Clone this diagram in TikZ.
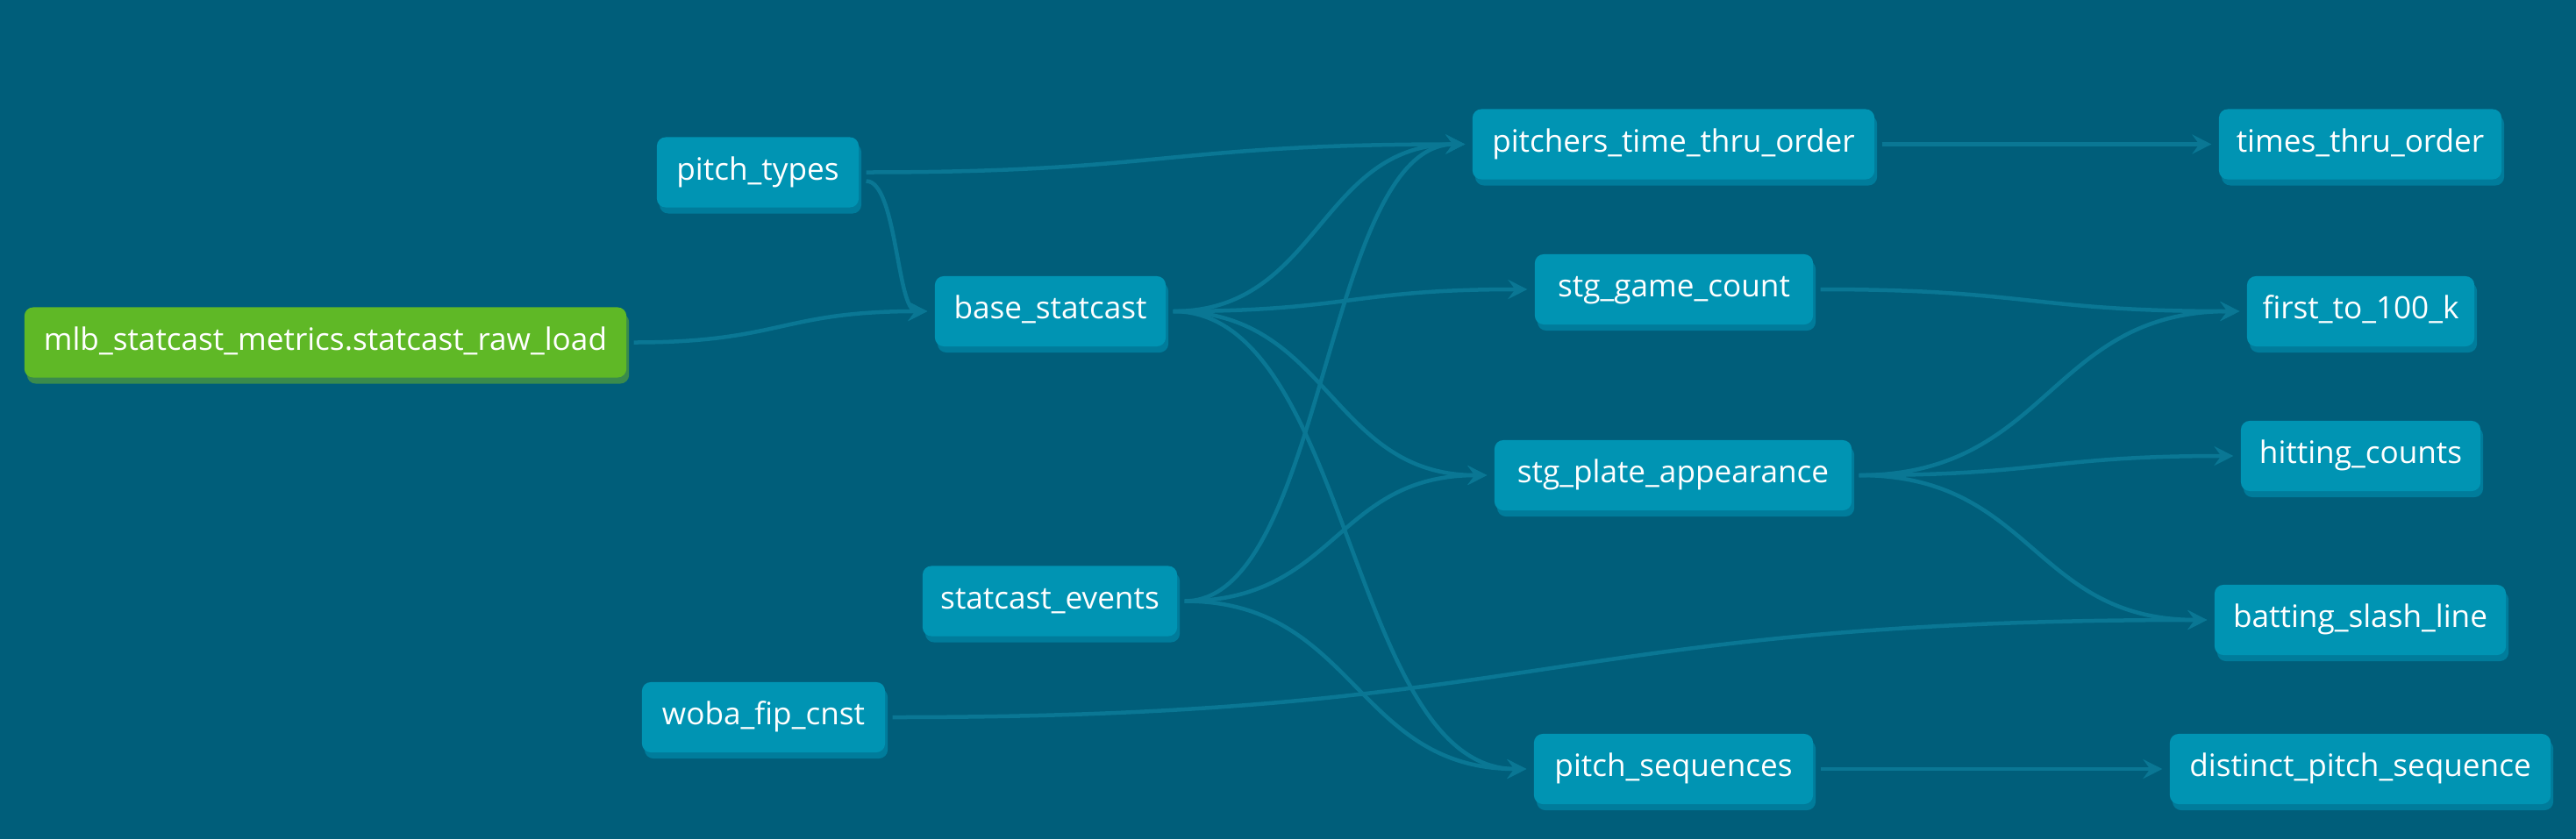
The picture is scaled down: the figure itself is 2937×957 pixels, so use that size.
\documentclass[tikz,border=0pt]{standalone}
\usepackage{fontspec}
\newfontfamily\boxfont{Open Sans}
\usetikzlibrary{arrows.meta,shadows}
\definecolor{bgcol}{HTML}{005E7A}
\definecolor{boxcol}{HTML}{0094B3}
\definecolor{boxshadow}{HTML}{007C9B}
\definecolor{srccol}{HTML}{5FB826}
\definecolor{srcshadow}{HTML}{3A8B4C}
\definecolor{edgecol}{HTML}{0A7794}
\newcommand\lnk[3]{\draw[edge] (#1.east) .. controls +(#3,0) and +(-#3,0) .. (#2.west);}
\begin{document}
\begin{tikzpicture}[x=0.01cm,y=-0.01cm,
  basebox/.style={rectangle, rounded corners=0.1cm, text=white,
    font=\boxfont\fontsize{10}{12}\selectfont, minimum height=0.8cm,
    inner sep=0pt, outer xsep=0.085cm, outer ysep=0pt,
    text height=0.75em, text depth=0.25em},
  model/.style={basebox, fill=boxcol,
    general shadow={fill=boxshadow, shadow xshift=0.03cm, shadow yshift=-0.07cm}},
  source/.style={basebox, fill=srccol,
    general shadow={fill=srcshadow, shadow xshift=0.03cm, shadow yshift=-0.07cm}},
  edge/.style={draw=edgecol, line width=0.045cm,
    -{Stealth[length=0.22cm,width=0.22cm,inset=0.08cm]}}
]
\fill[bgcol] (0,0) rectangle (2937,957);
\useasboundingbox (0,0) rectangle (2937,957);

\node[source, minimum width=6.86cm] (raw) at (371,390.5) {mlb\_statcast\_metrics.statcast\_raw\_load};
\node[model, minimum width=2.30cm] (pt) at (864,196.5) {pitch\_types};
\node[model, minimum width=2.63cm] (base) at (1197.5,355) {base\_statcast};
\node[model, minimum width=2.90cm] (events) at (1197,685.5) {statcast\_events};
\node[model, minimum width=2.77cm] (woba) at (870.5,818) {woba\_fip\_cnst};
\node[model, minimum width=4.58cm] (ptto) at (1908,164.5) {pitchers\_time\_thru\_order};
\node[model, minimum width=3.17cm] (sgc) at (1908.5,330) {stg\_game\_count};
\node[model, minimum width=4.07cm] (spa) at (1907.5,542) {stg\_plate\_appearance};
\node[model, minimum width=3.18cm] (pseq) at (1908,877) {pitch\_sequences};
\node[model, minimum width=3.22cm] (tto) at (2691,164.5) {times\_thru\_order};
\node[model, minimum width=2.59cm] (f100) at (2691.5,355) {first\_to\_100\_k};
\node[model, minimum width=2.73cm] (hit) at (2691.5,520) {hitting\_counts};
\node[model, minimum width=3.32cm] (bsl) at (2691,707) {batting\_slash\_line};
\node[model, minimum width=4.34cm] (dps) at (2691,877) {distinct\_pitch\_sequence};

\lnk{raw}{base}{168}
\draw[edge] ([yshift=-0.1cm]pt.east) .. controls +(35,0) and +(-35,0) .. (base.west);
\lnk{pt}{ptto}{342}
\lnk{base}{ptto}{167}
\lnk{base}{sgc}{202}
\lnk{base}{spa}{179}
\lnk{base}{pseq}{202}
\lnk{events}{ptto}{160}
\lnk{events}{spa}{173}
\lnk{events}{pseq}{195}
\lnk{woba}{bsl}{750}
\lnk{ptto}{tto}{188}
\lnk{sgc}{f100}{239}
\lnk{spa}{f100}{217}
\lnk{spa}{hit}{214}
\lnk{spa}{bsl}{199}
\lnk{pseq}{dps}{195}
\end{tikzpicture}
\end{document}
